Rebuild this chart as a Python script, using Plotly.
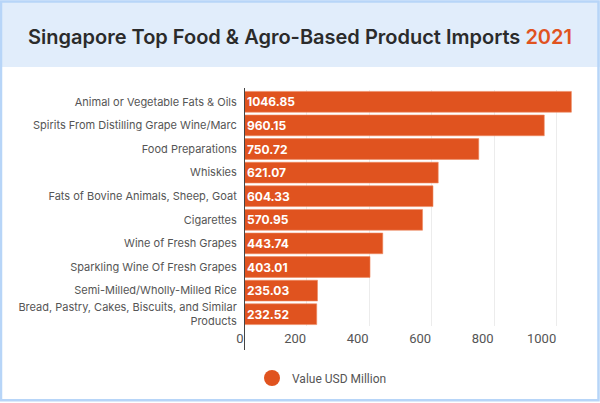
import plotly.graph_objects as go

categories = [
    "Animal or Vegetable Fats & Oils",
    "Spirits From Distilling Grape Wine/Marc",
    "Food Preparations",
    "Whiskies",
    "Fats of Bovine Animals, Sheep, Goat",
    "Cigarettes",
    "Wine of Fresh Grapes",
    "Sparkling Wine Of Fresh Grapes",
    "Semi-Milled/Wholly-Milled Rice",
    "Bread, Pastry, Cakes, Biscuits, and Similar<br>Products",
]
values = [1046.85, 960.15, 750.72, 621.07, 604.33, 570.95, 443.74, 403.01, 235.03, 232.52]
x_ticks = [0, 200, 400, 600, 800, 1000]
series_name = "Value USD Million"
title_main = "Singapore Top Food & Agro-Based Product Imports "
title_year = "2021"

W, H = 600, 403
L, R, T, B = 244, 12, 90, 76
pw, ph = W - L - R, H - T - B

def px(x):
    return (x - L) / pw

def py(y):
    return (H - B - y) / ph

ORANGE = "#e0531f"

fig = go.Figure()
fig.add_trace(go.Bar(
    y=categories, x=values, orientation="h",
    marker=dict(color=ORANGE, line=dict(color="#ef8a62", width=0.6)),
    text=[f"{v:.2f}" for v in values], textposition="inside",
    insidetextanchor="start",
    textfont=dict(color="white", size=13, family="Inter", weight="bold"),
    showlegend=False, hoverinfo="skip",
))
fig.add_trace(go.Scatter(
    x=[None], y=[None], mode="markers", name=series_name,
    marker=dict(color=ORANGE, size=18, symbol="circle"),
))

shapes = [
    # header background
    dict(type="rect", xref="paper", yref="paper", x0=px(0), x1=px(W), y0=py(67), y1=py(0),
         fillcolor="#e1edfb", line=dict(width=0), layer="below"),
    # frame border
    dict(type="rect", xref="paper", yref="paper", x0=px(1), x1=px(W - 1.5), y0=py(H - 1.5), y1=py(1),
         fillcolor="rgba(0,0,0,0)", line=dict(color="#b7d5f8", width=2.5)),
    # axis line
    dict(type="line", xref="x", yref="paper", x0=0, x1=0, y0=py(351), y1=py(88),
         line=dict(color="#444444", width=2)),
]

fig.update_layout(
    width=W, height=H,
    margin=dict(l=L, r=R, t=T, b=B),
    paper_bgcolor="white", plot_bgcolor="white",
    bargap=0.12,
    shapes=shapes,
    title=dict(
        text=f"{title_main}<span style='color:{ORANGE}'>{title_year}</span>",
        x=0.5, xref="container", xanchor="center",
        y=1 - 37 / H, yref="container", yanchor="middle",
        font=dict(family="Inter", size=20, color="#2b2b2b", weight=600),
    ),
    xaxis=dict(
        range=[0, 1100], tickvals=x_ticks, ticktext=[str(t) for t in x_ticks],
        showgrid=True, gridcolor="#ececec", gridwidth=1,
        zeroline=False, showline=False,
        ticks="outside", ticklen=9, tickcolor="rgba(0,0,0,0)",
        ticklabelposition="outside left",
        tickfont=dict(family="Roboto", size=13, color="#555555"),
    ),
    yaxis=dict(
        autorange="reversed", showgrid=False, zeroline=False, showline=False,
        ticks="outside", ticklen=4, tickcolor="rgba(0,0,0,0)",
        tickfont=dict(family="Inter", size=11, color="#555555"),
    ),
    legend=dict(
        orientation="h", x=px(252), xanchor="left", y=py(378), yanchor="middle",
        font=dict(family="Roboto", size=12, color="#555555"),
        bgcolor="rgba(0,0,0,0)",
    ),
)

fig.write_html("out.html")
